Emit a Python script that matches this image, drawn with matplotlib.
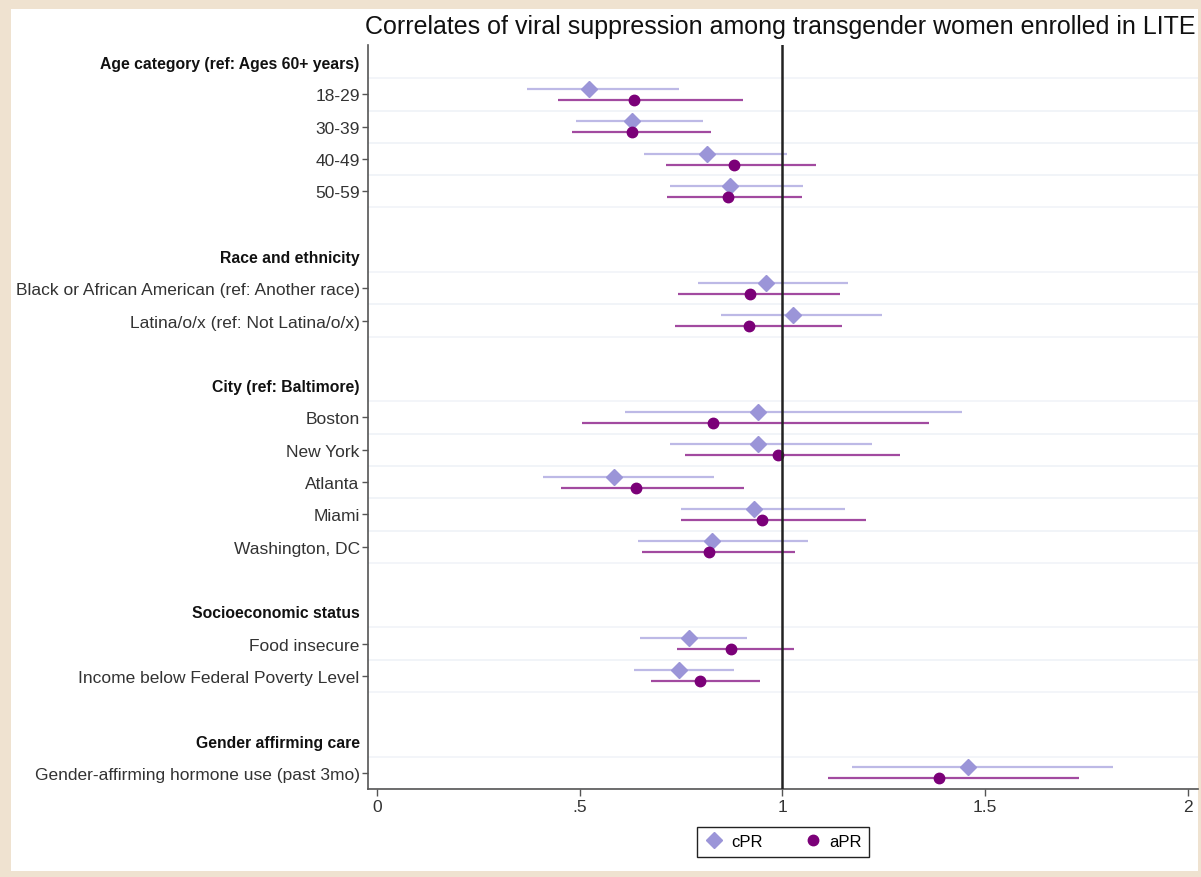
import matplotlib.pyplot as plt
import matplotlib.patches as mpatches
import numpy as np

plt.rcParams['font.family'] = ['Liberation Sans', 'DejaVu Sans']

# rows from top to bottom; headers are bold, '' is an empty spacer row
labels = ['Age category (ref: Ages 60+ years)', '18-29', '30-39', '40-49', '50-59', '',
          'Race and ethnicity', 'Black or African American (ref: Another race)',
          'Latina/o/x (ref: Not Latina/o/x)', '',
          'City (ref: Baltimore)', 'Boston', 'New York', 'Atlanta', 'Miami', 'Washington, DC', '',
          'Socioeconomic status', 'Food insecure', 'Income below Federal Poverty Level', '',
          'Gender affirming care', 'Gender-affirming hormone use (past 3mo)']
headers = ['Age category (ref: Ages 60+ years)', 'Race and ethnicity', 'City (ref: Baltimore)',
           'Socioeconomic status', 'Gender affirming care']

# estimates for the data rows, in order of appearance
cpr    = [0.524, 0.629, 0.815, 0.871, 0.959, 1.027, 0.939, 0.939, 0.584, 0.929, 0.827, 0.769, 0.746, 1.457]
cpr_lo = [0.371, 0.492, 0.658, 0.722, 0.791, 0.848, 0.613, 0.723, 0.410, 0.749, 0.644, 0.648, 0.634, 1.171]
cpr_hi = [0.745, 0.805, 1.011, 1.051, 1.162, 1.245, 1.443, 1.221, 0.832, 1.154, 1.064, 0.912, 0.880, 1.815]
apr    = [0.634, 0.629, 0.880, 0.866, 0.920, 0.917, 0.828, 0.990, 0.640, 0.950, 0.819, 0.873, 0.798, 1.386]
apr_lo = [0.446, 0.481, 0.714, 0.716, 0.743, 0.735, 0.506, 0.761, 0.455, 0.750, 0.653, 0.741, 0.677, 1.112]
apr_hi = [0.904, 0.823, 1.083, 1.048, 1.142, 1.147, 1.361, 1.290, 0.905, 1.206, 1.030, 1.029, 0.945, 1.731]

c_light, c_light_ci = '#9b95d8', '#bdb9e6'
c_dark, c_dark_ci = '#7b0078', '#a24aa0'

fig = plt.figure(figsize=(12.01, 8.78), dpi=100)
fig.patch.set_facecolor('#efe2d0')
fig.add_artist(mpatches.Rectangle((11 / 1201, 1 - 872 / 878), 1187 / 1201, 862 / 878,
                                  transform=fig.transFigure, facecolor='white',
                                  edgecolor='none', zorder=0))
ax = fig.add_axes([368 / 1201, 1 - 790 / 878, 830 / 1201, 744 / 878])
ax.set_facecolor('none')

pos = np.arange(len(labels))
data_pos = np.array([p for p, l in zip(pos, labels) if l and l not in headers])

# faint row separators
for p in data_pos:
    for g in (p - 0.5, p + 0.5):
        ax.axhline(g, color='#f1f4f8', lw=1.2, zorder=1)

off = 0.17
ax.hlines(data_pos - off, cpr_lo, cpr_hi, color=c_light_ci, lw=1.6, zorder=2)
ax.hlines(data_pos + off, apr_lo, apr_hi, color=c_dark_ci, lw=1.6, zorder=2)
ax.plot(cpr, data_pos - off, 'D', color=c_light, ms=8, ls='none', zorder=3, label='cPR')
ax.plot(apr, data_pos + off, 'o', color=c_dark, ms=7.5, ls='none', zorder=3, label='aPR')

ax.axvline(1, color='#222222', lw=1.8, zorder=4)

ax.set_xlim(-0.022, 2.025)
ax.set_ylim(len(labels) - 0.5, -0.53)

shown = [p for p, l in zip(pos, labels) if l]
ax.set_yticks(shown)
ax.set_yticklabels([labels[p] for p in shown])
for tick, p in zip(ax.yaxis.get_major_ticks(), shown):
    if labels[p] in headers:
        tick.tick1line.set_visible(False)
        tick.label1.set_fontweight('bold')
        tick.label1.set_fontsize(11.3)
        tick.label1.set_color('#111111')
    else:
        tick.label1.set_fontsize(12.5)
        tick.label1.set_color('#333333')
ax.tick_params(axis='y', length=4, width=1, color='#555555', pad=2)

ax.set_xticks([0, 0.5, 1, 1.5, 2])
ax.set_xticklabels(['0', '.5', '1', '1.5', '2'], fontsize=12.5, color='#333333')
ax.tick_params(axis='x', length=5, width=1, color='#555555', pad=2)

for s in ('top', 'right'):
    ax.spines[s].set_visible(False)
for s in ('left', 'bottom'):
    ax.spines[s].set_color('#555555')
    ax.spines[s].set_linewidth(1.2)

fig.text(780 / 1201, 1 - 27 / 878, 'Correlates of viral suppression among transgender women enrolled in LITE',
         ha='center', va='center', fontsize=18, color='#111111')

leg = ax.legend(loc='center', bbox_to_anchor=(0.5, -0.071), ncol=2, fontsize=12,
                frameon=True, fancybox=False, edgecolor='#222222', framealpha=1,
                handletextpad=0.4, columnspacing=2.4, borderpad=0.45, handlelength=1.2)
leg.get_frame().set_linewidth(1)

fig.savefig('out.png', dpi=100, facecolor=fig.get_facecolor())
